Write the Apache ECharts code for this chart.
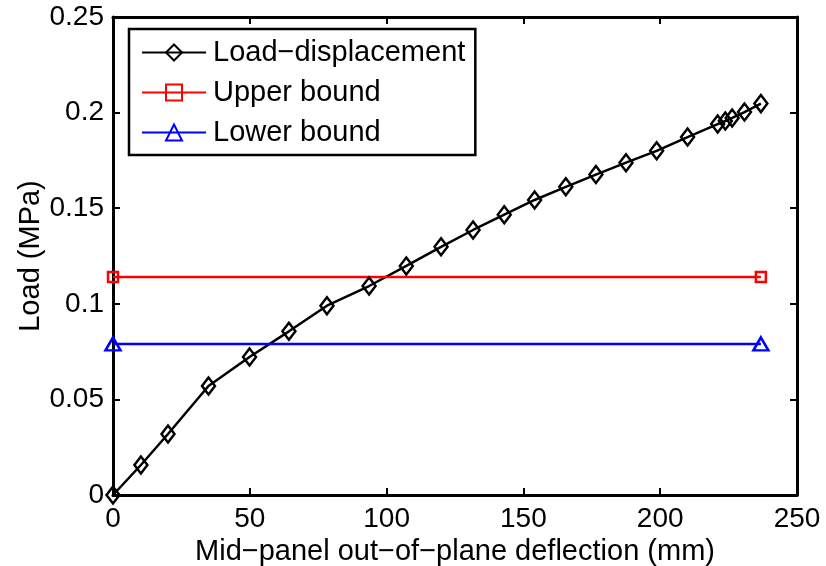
<!DOCTYPE html>
<html><head><meta charset="utf-8">
<script src="https://cdn.jsdelivr.net/npm/echarts@6/dist/echarts.min.js"></script>
<style>html,body{margin:0;padding:0;background:#fff}#c{width:826px;height:566px}</style>
</head><body><div id="c"></div>
<script>
const deflection = [0, 10.2, 20.1, 34.9, 49.9, 64.3, 78.2, 93.6, 107.2, 119.9, 131.6, 143.0, 154.1, 165.5, 176.5, 187.5, 198.7, 210.0, 221.0, 223.8, 226.3, 230.8, 236.8];
const load = [0, 0.0157, 0.0319, 0.0570, 0.0722, 0.0856, 0.0990, 0.1093, 0.1198, 0.1298, 0.1386, 0.1466, 0.1543, 0.1612, 0.1676, 0.1738, 0.1800, 0.1872, 0.1940, 0.1956, 0.1972, 0.2003, 0.2047];
const boundX = [0, 236.8];
const upperBound = [0.114, 0.114];
const lowerBound = [0.079, 0.079];
const seriesNames = ['Load\u2212displacement', 'Upper bound', 'Lower bound'];
const xTitle = 'Mid\u2212panel out\u2212of\u2212plane deflection (mm)';
const yTitle = 'Load (MPa)';

const font = "'Liberation Sans', Arial, Helvetica, sans-serif";
const fs = 28, fsName = 29;
const pair = (xs, ys) => xs.map((x, i) => [x, ys[i]]);
const chart = echarts.init(document.getElementById('c'), null, {renderer: 'canvas'});
const axisLine = {show: true, onZero: false, lineStyle: {color: '#000', width: 3}};
const tick = {show: true, inside: true, length: 7, lineStyle: {color: '#000', width: 2}};
chart.setOption({
  animation: false,
  backgroundColor: '#fff',
  grid: {left: 113, right: 29, top: 17, bottom: 71, containLabel: false, outerBoundsMode: 'none'},
  legend: {
    orient: 'vertical', left: 129, top: 29,
    backgroundColor: '#fff', borderColor: '#000', borderWidth: 2.5, borderRadius: 0,
    padding: [9, 10, 8, 12], itemGap: 11, itemWidth: 64, itemHeight: 20,
    textStyle: {fontFamily: font, fontSize: fsName, color: '#000', padding: [0, 0, 0, 2]},
    data: seriesNames
  },
  xAxis: [
    {type: 'value', min: 0, max: 250, interval: 50, position: 'bottom',
     axisLine, axisTick: tick, splitLine: {show: false},
     axisLabel: {fontFamily: font, fontSize: fs, color: '#000', margin: 10},
     name: xTitle, nameLocation: 'middle', nameGap: 39,
     nameTextStyle: {fontFamily: font, fontSize: fsName, color: '#000'}},
    {type: 'value', min: 0, max: 250, interval: 50, position: 'top',
     axisLine, axisTick: tick, axisLabel: {show: false}, splitLine: {show: false}}
  ],
  yAxis: [
    {type: 'value', min: 0, max: 0.25, interval: 0.05, position: 'left',
     axisLine, axisTick: tick, splitLine: {show: false},
     axisLabel: {fontFamily: font, fontSize: fs, color: '#000', margin: 9},
     name: yTitle, nameLocation: 'middle', nameGap: 68, nameRotate: 90, nameMoveOverlap: false,
     nameTextStyle: {fontFamily: font, fontSize: fsName, color: '#000'}},
    {type: 'value', min: 0, max: 0.25, interval: 0.05, position: 'right',
     axisLine, axisTick: tick, axisLabel: {show: false}, splitLine: {show: false}}
  ],
  series: [
    {name: seriesNames[0], type: 'line', data: pair(deflection, load),
     symbol: 'diamond', symbolSize: [13, 17], showAllSymbol: true,
     lineStyle: {color: '#000', width: 2.5},
     itemStyle: {color: 'rgba(0,0,0,0)', borderColor: '#000', borderWidth: 2.5}},
    {name: seriesNames[1], type: 'line', data: pair(boundX, upperBound),
     symbol: 'rect', symbolSize: 10,
     lineStyle: {color: '#ff0000', width: 2.5},
     itemStyle: {color: 'rgba(0,0,0,0)', borderColor: '#ff0000', borderWidth: 2.5}},
    {name: seriesNames[2], type: 'line', data: pair(boundX, lowerBound),
     symbol: 'triangle', symbolSize: [15, 13],
     lineStyle: {color: '#0000ff', width: 2.5},
     itemStyle: {color: 'rgba(0,0,0,0)', borderColor: '#0000ff', borderWidth: 2.5}}
  ]
});
</script></body></html>
